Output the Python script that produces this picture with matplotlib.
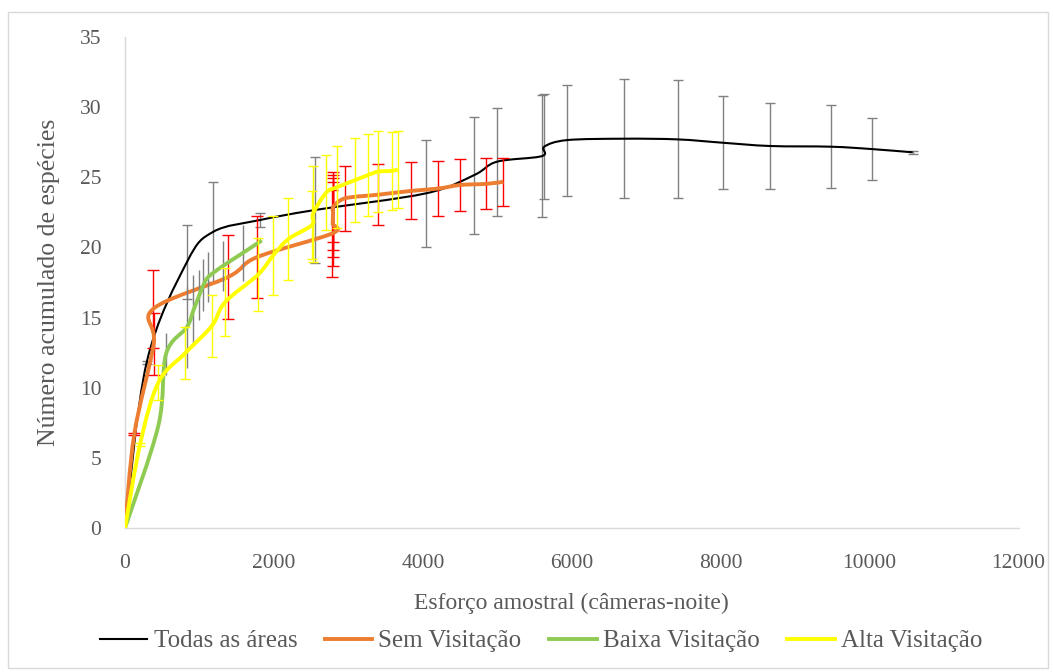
import numpy as np
import matplotlib
matplotlib.use("Agg")
import matplotlib.pyplot as plt
from matplotlib.path import Path
from matplotlib.patches import PathPatch, Rectangle
from matplotlib.lines import Line2D

# Todas as áreas
todas_x = [0, 291, 833, 1187, 1810, 2553, 4045, 4690, 4995, 5599, 5630, 5935, 6705, 7427, 8035, 8663, 9483, 10033, 10579]
todas_y = [0, 11.8, 18.97, 21.12, 21.95, 22.67, 23.86, 25.16, 26.11, 26.51, 27.18, 27.65, 27.75, 27.7, 27.46, 27.23, 27.18, 27.01, 26.78]
todas_err = [0, 0.1, 2.64, 3.55, 0.5, 3.75, 3.8, 4.17, 3.86, 4.37, 3.76, 3.95, 4.25, 4.2, 3.3, 3.07, 2.95, 2.2, 0.12]

# Sem Visitação
sem_x = [0, 125, 385, 375, 1388, 1770, 2785, 2789, 2792, 2795, 2799, 2956, 3404, 3843, 4210, 4501, 4851, 5083]
sem_y = [0, 6.7, 13.1, 15.6, 17.9, 19.3, 21.0, 21.68, 22.13, 22.49, 22.9, 23.5, 23.76, 24.03, 24.2, 24.45, 24.53, 24.68]
sem_err = [0, 0.1, 2.2, 2.8, 2.98, 2.93, 3.08, 3.0, 2.79, 2.67, 2.5, 2.32, 2.16, 2.03, 1.96, 1.85, 1.82, 1.7]

# Baixa Visitação
baixa_x = [0, 448, 551, 829, 918, 998, 1052, 1119, 1321, 1581, 1837]
baixa_y = [0, 7.3, 12.4, 14.3, 15.5, 16.6, 17.3, 17.9, 18.7, 19.6, 20.5]
baixa_err = [0, 0, 1.48, 2.9, 2.55, 1.78, 1.84, 1.78, 1.78, 2.0, 0]

# Alta Visitação
alta_x = [0, 202, 448, 806, 1165, 1344, 1785, 1993, 2195, 2510, 2525, 2701, 2853, 3091, 3261, 3396, 3584, 3664]
alta_y = [0, 5.96, 10.37, 12.45, 14.4, 16.1, 18.05, 19.45, 20.6, 21.6, 22.4, 23.9, 24.3, 24.8, 25.15, 25.4, 25.46, 25.55]
alta_err = [0, 0.1, 1.25, 1.85, 2.2, 2.4, 2.6, 2.82, 2.9, 2.43, 3.44, 2.67, 2.9, 2.97, 2.9, 2.88, 2.8, 2.73]

labels = ["Todas as áreas", "Sem Visitação", "Baixa Visitação", "Alta Visitação"]

serif = ["Liberation Serif", "DejaVu Serif"]
plt.rcParams["font.family"] = serif
text_color = "#595959"


def smooth_path(x, y):
    # bezier curve through the points, like the smoothed lines of a spreadsheet
    pts = np.column_stack([x, y]).astype(float)
    n = len(pts)
    verts = [pts[0]]
    codes = [Path.MOVETO]
    for i in range(n - 1):
        p0 = pts[max(i - 1, 0)]
        p1 = pts[i]
        p2 = pts[i + 1]
        p3 = pts[min(i + 2, n - 1)]
        verts += [p1 + (p2 - p0) / 6, p2 - (p3 - p1) / 6, p2]
        codes += [Path.CURVE4] * 3
    return Path(verts, codes)


def draw_series(ax, x, y, err, color, lw, ecolor, capsize, z):
    x = np.array(x, dtype=float)
    y = np.array(y, dtype=float)
    err = np.array(err, dtype=float)
    m = err > 0
    ax.errorbar(x[m], y[m], yerr=err[m], fmt="none", ecolor=ecolor,
                elinewidth=1.0, capsize=capsize, capthick=1.0, zorder=z)
    ax.add_patch(PathPatch(smooth_path(x, y), fill=False, edgecolor=color,
                           lw=lw, zorder=z + 0.5, capstyle="butt", joinstyle="round"))


fig = plt.figure(figsize=(10.53, 6.72), dpi=100)
ax = fig.add_axes([125 / 1053, 144 / 672, (1018.5 - 125) / 1053, (528 - 37) / 672])

draw_series(ax, todas_x, todas_y, todas_err, "black", 1.5, "#808080", 3.6, 2)
draw_series(ax, sem_x, sem_y, sem_err, "#ED7D31", 2.8, "#FF0000", 4.0, 3)
draw_series(ax, baixa_x, baixa_y, baixa_err, "#8FCB52", 2.8, "#7F7F7F", 0, 4)
draw_series(ax, alta_x, alta_y, alta_err, "#FFFF00", 2.8, "#FFFF00", 3.6, 5)

ax.set_xlim(0, 12000)
ax.set_ylim(0, 35)
ax.set_xticks(np.arange(0, 12001, 2000))
ax.set_yticks(np.arange(0, 36, 5))
for s in ["top", "right"]:
    ax.spines[s].set_visible(False)
for s in ["left", "bottom"]:
    ax.spines[s].set_color("#D9D9D9")
    ax.spines[s].set_linewidth(1.0)
ax.tick_params(axis="both", length=0, labelsize=15.5, labelcolor=text_color)
ax.tick_params(axis="x", pad=19)
ax.tick_params(axis="y", pad=17)

ax.set_xlabel("Esforço amostral (câmeras-noite)", fontsize=17, color=text_color, labelpad=14)
ax.set_ylabel("Número acumulado de espécies", fontsize=18.5, color=text_color, labelpad=14)

handles = [
    Line2D([], [], color="black", lw=1.5),
    Line2D([], [], color="#ED7D31", lw=2.8),
    Line2D([], [], color="#8FCB52", lw=2.8),
    Line2D([], [], color="#FFFF00", lw=2.8),
]
leg = fig.legend(handles, labels, loc="center", bbox_to_anchor=(541 / 1053, 1 - 641 / 672),
                 ncol=4, frameon=False, prop={"family": serif, "size": 18},
                 handlelength=1.9, handletextpad=0.25, columnspacing=1.1)
for t in leg.get_texts():
    t.set_color(text_color)

fig.add_artist(Rectangle((8 / 1053, 4 / 672), 1040 / 1053, 656 / 672, transform=fig.transFigure,
                         fill=False, edgecolor="#D9D9D9", lw=1.0))

fig.savefig("out.png", dpi=100)
